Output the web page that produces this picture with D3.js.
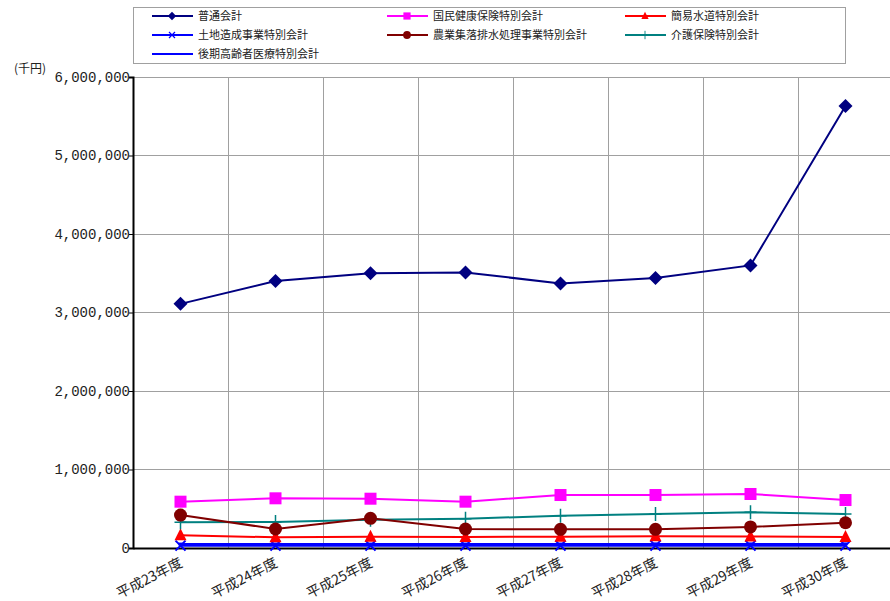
<!DOCTYPE html>
<html><head><meta charset="utf-8">
<script src="https://cdn.jsdelivr.net/npm/d3@7"></script>
<style>body{margin:0;background:#fff}svg{display:block}</style>
</head><body>
<script>
const categories = ["平成23年度","平成24年度","平成25年度","平成26年度","平成27年度","平成28年度","平成29年度","平成30年度"];
const futsuKaikei = [3110000,3400000,3500000,3510000,3370000,3440000,3600000,5630000];
const kokuminKenko = [590000,633000,628000,590000,675000,675000,688000,611000];
const kanisuido = [162000,136000,144000,140000,144000,150000,148000,140000];
const tochiZosei = [30000,30000,30000,30000,30000,30000,30000,30000];
const nogyoShuraku = [420000,242000,378000,242000,238000,238000,268000,322000];
const kaigoHoken = [327000,331000,361000,373000,411000,433000,455000,433000];
const kokiKorei = [50000,50000,50000,50000,50000,52000,52000,52000];
const yTicks = [0,1000000,2000000,3000000,4000000,5000000,6000000];

const series = [
  {name:"普通会計", values:futsuKaikei, color:"#000080", marker:"diamond"},
  {name:"国民健康保険特別会計", values:kokuminKenko, color:"#ff00ff", marker:"square"},
  {name:"簡易水道特別会計", values:kanisuido, color:"#ff0000", marker:"triangle"},
  {name:"土地造成事業特別会計", values:tochiZosei, color:"#0000ff", marker:"x"},
  {name:"農業集落排水処理事業特別会計", values:nogyoShuraku, color:"#800000", marker:"circle"},
  {name:"介護保険特別会計", values:kaigoHoken, color:"#008080", marker:"plus"},
  {name:"後期高齢者医療特別会計", values:kokiKorei, color:"#0000ff", marker:"dot"}
];

(function(){
const W=890,H=601;
const svg=d3.select("body").append("svg").attr("width",W).attr("height",H);
const pLeft=133, pTop=77, pBottom=548, pRight=893;
const x=d3.scaleBand().domain(categories).range([pLeft,pRight]);
const y=d3.scaleLinear().domain([0,6000000]).range([pBottom,pTop]);
const jp='"Noto Sans CJK JP", sans-serif';

const g=svg.append("g");
g.selectAll("line.h").data(yTicks).join("line")
 .attr("x1",pLeft).attr("x2",W).attr("y1",d=>y(d)).attr("y2",d=>y(d))
 .attr("stroke","#a0a0a0").attr("stroke-width",1).attr("shape-rendering","crispEdges");
g.selectAll("line.v").data(categories.slice(1)).join("line")
 .attr("x1",d=>x(d)).attr("x2",d=>x(d)).attr("y1",pTop).attr("y2",pBottom)
 .attr("stroke","#a0a0a0").attr("stroke-width",1).attr("shape-rendering","crispEdges");

const ya=svg.append("g").attr("transform",`translate(${pLeft},0)`)
 .call(d3.axisLeft(y).tickValues(yTicks).tickSize(4).tickFormat(d3.format(",")));
ya.select(".domain").attr("stroke","#000").attr("stroke-width",2);
ya.selectAll("text").attr("font-family",'"Liberation Mono", monospace').attr("font-size",14).attr("fill","#222").attr("x",-3);
const xa=svg.append("g").attr("transform",`translate(0,${pBottom})`)
 .call(d3.axisBottom(x).tickSize(0).tickFormat(""));
xa.select(".domain").attr("stroke","#000").attr("stroke-width",2);
svg.append("g").selectAll("text").data(categories).join("text")
 .attr("transform",d=>`translate(${x(d)+x.bandwidth()/2+3},${pBottom+18}) rotate(-27)`)
 .attr("text-anchor","end").attr("font-family",jp).attr("font-size",14).attr("fill","#222")
 .text(d=>d);

svg.append("text").attr("x",14).attr("y",73).attr("font-family",jp).attr("font-size",12).attr("fill","#222").text("(千円)");

function drawMarker(sel,type,color){
  if(type==="diamond") sel.append("path").attr("d","M0,-7L7,0L0,7L-7,0Z").attr("fill",color);
  else if(type==="square") sel.append("rect").attr("x",-6).attr("y",-6).attr("width",12).attr("height",12).attr("fill",color);
  else if(type==="triangle") sel.append("path").attr("d","M0,-7L6,5L-6,5Z").attr("fill",color);
  else if(type==="circle") sel.append("circle").attr("r",6.5).attr("fill",color);
  else if(type==="x") sel.append("path").attr("d","M-5,-5L5,5M-5,5L5,-5").attr("stroke",color).attr("stroke-width",2);
  else if(type==="plus") sel.append("path").attr("d","M-6,0L6,0M0,-7L0,7").attr("stroke",color).attr("stroke-width",1.5);
  else if(type==="dot") sel.append("rect").attr("x",-2).attr("y",-1.5).attr("width",4).attr("height",3).attr("fill",color);
}

const line=d3.line().x((d,i)=>x(categories[i])+x.bandwidth()/2).y(d=>y(d));
const drawOrder=[6,3,2,5,4,1,0];
drawOrder.forEach(k=>{
  const s=series[k];
  svg.append("path").attr("d",line(s.values)).attr("fill","none").attr("stroke",s.color).attr("stroke-width",2);
});
drawOrder.forEach(k=>{
  const s=series[k];
  s.values.forEach((v,i)=>{
    const m=svg.append("g").attr("transform",`translate(${x(categories[i])+x.bandwidth()/2},${y(v)})`);
    drawMarker(m,s.marker,s.color);
  });
});

const lg=svg.append("g");
lg.append("rect").attr("x",133.5).attr("y",7.5).attr("width",712).attr("height",56).attr("fill","#fff").attr("stroke","#a0a0a0");
const colX=[152,387,625], rowY=[16,35,54];
series.forEach((s,i)=>{
  const cx=colX[i%3], cy=rowY[Math.floor(i/3)];
  const it=lg.append("g").attr("transform",`translate(${cx},${cy})`);
  it.append("line").attr("x1",0).attr("x2",41).attr("stroke",s.color).attr("stroke-width",2);
  const m=it.append("g").attr("transform","translate(20,0) scale(0.6)");
  drawMarker(m,s.marker,s.color);
  it.append("text").attr("x",46).attr("y",4).attr("font-family",jp).attr("font-size",11).attr("fill","#222").text(s.name);
});
})();
</script>
</body></html>
